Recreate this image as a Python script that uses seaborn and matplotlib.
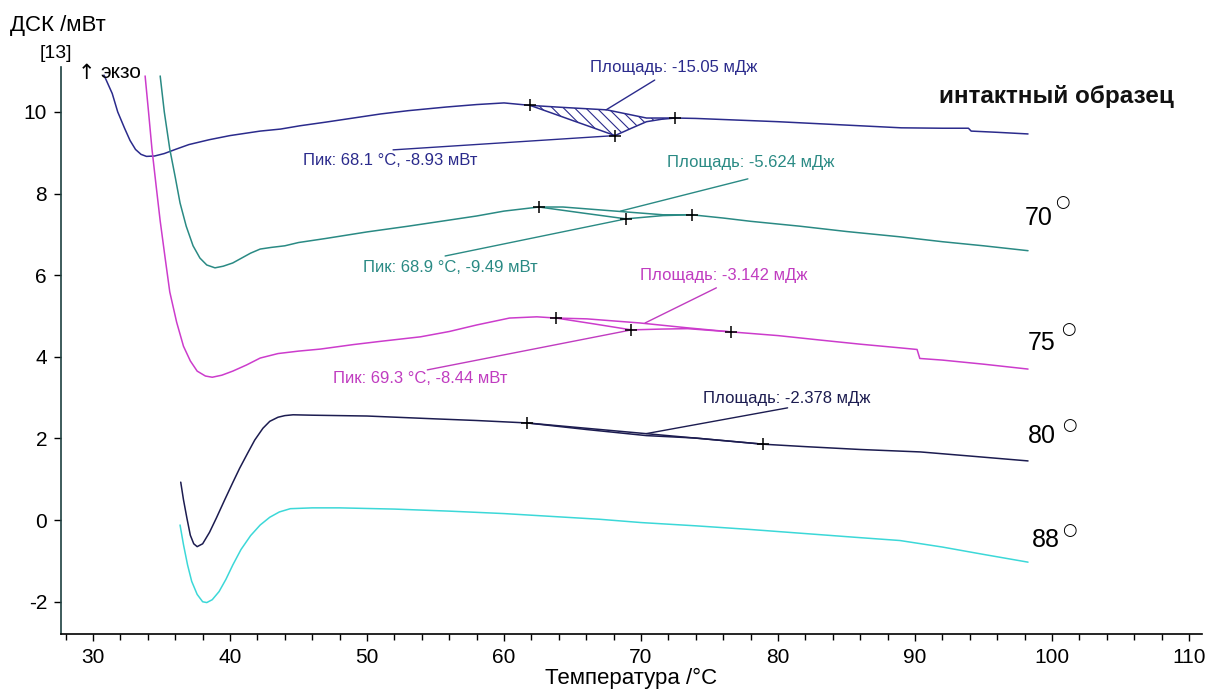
import numpy as np
import pandas as pd
import matplotlib
matplotlib.use("Agg")
import matplotlib.pyplot as plt
from matplotlib.ticker import MultipleLocator
import seaborn as sns

# ---------------- data ----------------
t_intact = [30.8, 31.4, 31.8, 32.3, 32.7, 33.1, 33.5, 33.9, 34.5, 35.2, 36.0, 37.0, 38.5, 40.0,
            42.2, 43.7, 45.1, 47.0, 49.0, 51.0, 53.0, 55.8, 58.0, 60.0, 61.9, 63.5, 65.0, 66.6,
            68.1, 69.3, 70.4, 71.5, 72.5, 74.0, 77.0, 80.0, 83.0, 86.0, 89.0, 92.0, 93.9, 94.1,
            96.0, 98.25]
v_intact = [10.9, 10.45, 10.0, 9.6, 9.3, 9.08, 8.96, 8.91, 8.92, 8.98, 9.08, 9.2, 9.32, 9.42,
            9.53, 9.58, 9.66, 9.75, 9.85, 9.95, 10.03, 10.12, 10.18, 10.22, 10.16, 9.97, 9.79, 9.6,
            9.42, 9.6, 9.76, 9.82, 9.85, 9.84, 9.8, 9.76, 9.71, 9.66, 9.61, 9.6, 9.6, 9.53,
            9.5, 9.46]

t_70 = [34.9, 35.2, 35.6, 36.0, 36.35, 36.8, 37.3, 37.8, 38.3, 38.9, 39.5, 40.2, 41.5, 42.2,
        43.0, 44.0, 45.0, 47.0, 50.0, 53.0, 55.0, 58.0, 60.0, 62.55, 65.8, 68.9, 71.6, 73.7,
        76.0, 78.0, 81.6, 85.0, 88.9, 92.0, 95.0, 98.25]
v_70 = [10.88, 10.0, 9.09, 8.4, 7.77, 7.2, 6.72, 6.42, 6.25, 6.18, 6.22, 6.3, 6.54, 6.64,
        6.68, 6.72, 6.8, 6.9, 7.06, 7.2, 7.3, 7.45, 7.57, 7.67, 7.52, 7.38, 7.46, 7.48,
        7.4, 7.32, 7.2, 7.07, 6.94, 6.82, 6.72, 6.6]

t_75 = [33.8, 34.05, 34.3, 34.6, 34.9, 35.25, 35.6, 36.1, 36.6, 37.1, 37.6, 38.2, 38.7, 39.4,
        40.2, 41.2, 42.2, 43.5, 45.0, 46.6, 49.0, 51.0, 53.9, 56.0, 58.0, 60.4, 62.4, 63.8,
        66.5, 69.3, 71.5, 73.4, 76.6, 80.0, 83.1, 86.0, 88.9, 90.15, 90.35, 92.0, 95.0, 98.25]
v_75 = [10.88, 10.0, 9.09, 8.2, 7.33, 6.45, 5.59, 4.85, 4.26, 3.9, 3.65, 3.53, 3.5, 3.55,
        3.65, 3.8, 3.97, 4.08, 4.14, 4.19, 4.3, 4.38, 4.49, 4.62, 4.78, 4.95, 4.98, 4.95,
        4.81, 4.66, 4.68, 4.69, 4.61, 4.52, 4.41, 4.31, 4.22, 4.18, 3.96, 3.92, 3.82, 3.7]

t_80 = [36.4, 36.6, 36.85, 37.1, 37.35, 37.6, 38.0, 38.5, 39.0, 39.6, 40.2, 40.7, 41.3, 41.8,
        42.4, 42.9, 43.5, 44.0, 44.6, 46.0, 50.0, 55.0, 58.0, 61.7, 66.0, 70.4, 74.0, 78.9,
        82.0, 86.0, 90.4, 94.0, 98.25]
v_80 = [0.93, 0.5, 0.05, -0.37, -0.58, -0.65, -0.58, -0.3, 0.05, 0.49, 0.92, 1.27, 1.65, 1.96,
        2.25, 2.42, 2.52, 2.56, 2.58, 2.57, 2.55, 2.48, 2.44, 2.38, 2.22, 2.07, 2.01, 1.86,
        1.8, 1.73, 1.67, 1.57, 1.45]

t_88 = [36.35, 36.6, 36.9, 37.2, 37.6, 38.0, 38.3, 38.7, 39.2, 39.7, 40.2, 40.8, 41.5, 42.2,
        42.9, 43.6, 44.4, 46.0, 48.0, 52.0, 56.0, 60.0, 64.0, 67.0, 70.0, 74.0, 78.0, 82.0,
        86.0, 88.9, 92.0, 95.0, 98.25]
v_88 = [-0.12, -0.6, -1.1, -1.5, -1.82, -2.0, -2.02, -1.95, -1.75, -1.45, -1.1, -0.72, -0.38, -0.12,
        0.07, 0.2, 0.28, 0.3, 0.3, 0.27, 0.22, 0.16, 0.08, 0.02, -0.06, -0.14, -0.23, -0.33,
        -0.43, -0.5, -0.66, -0.84, -1.03]

series_names = ["интактный образец", "70", "75", "80", "88"]
series_t = [t_intact, t_70, t_75, t_80, t_88]
series_v = [v_intact, v_70, v_75, v_80, v_88]

# integration limits and peak marks
marks_t = [[61.9, 68.1, 72.5], [62.55, 68.9, 73.7], [63.8, 69.3, 76.6], [61.7, 78.9]]
marks_v = [[10.16, 9.42, 9.85], [7.67, 7.38, 7.48], [4.95, 4.66, 4.61], [2.38, 1.86]]

# baselines of the peak integration
base_t = [[61.9, 64.3, 67.5, 70.4, 72.5], [62.55, 64.3, 68.5, 71.6, 73.7],
          [63.8, 66.05, 69.9, 73.4, 76.6], [61.7, 78.9]]
base_v = [[10.16, 10.11, 10.05, 9.85, 9.85], [7.67, 7.67, 7.56, 7.48, 7.48],
          [4.95, 4.93, 4.83, 4.71, 4.61], [2.38, 1.86]]

area_texts = ["Площадь: -15.05 мДж", "Площадь: -5.624 мДж", "Площадь: -3.142 мДж", "Площадь: -2.378 мДж"]
peak_texts = ["Пик: 68.1 °C, -8.93 мВт", "Пик: 68.9 °C, -9.49 мВт", "Пик: 69.3 °C, -8.44 мВт", None]

# ---------------- style / layout ----------------
colors = ["#2b2b8c", "#2a8a84", "#cc3ccc", "#1c1c50", "#3cd8d8"]
text_colors = ["#2b2b8c", "#2a8a84", "#c03cc0", "#1c1c50"]

# annotation placement (text anchor, leader line start -> end)
area_text_pos = [(66.3, 11.08), (71.9, 8.75), (69.9, 6.0), (74.5, 2.99)]
area_line = [((67.45, 10.05), (71.0, 10.78)), ((68.5, 7.57), (77.8, 8.36)),
             ((70.3, 4.83), (75.5, 5.69)), ((70.4, 2.12), (80.7, 2.75))]
peak_text_pos = [(45.3, 8.82), (49.7, 6.2), (47.5, 3.48), None]
peak_line_end = [(51.9, 9.07), (55.7, 6.47), (54.4, 3.68), None]

label_pos = [(91.75, 10.37), (98.0, 7.40), (98.25, 4.34), (98.25, 2.06), (98.5, -0.49)]
circle_pos = [None, (100.73, 7.79), (101.17, 4.68), (101.24, 2.33), (101.3, -0.25)]

sns.set_theme(style="ticks")
plt.rcParams['font.family'] = ['Liberation Sans', 'DejaVu Sans']
plt.rcParams['axes.unicode_minus'] = False
plt.rcParams['hatch.linewidth'] = 0.8

W, H = 1211, 689
fig = plt.figure(figsize=(W / 100, H / 100), dpi=100)
fig.patch.set_facecolor("white")
ax = fig.add_axes([61 / W, 1 - 634 / H, (1202 - 61) / W, (634 - 67) / H])
ax.set_facecolor("white")

rows = []
for name, ts, vs in zip(series_names, series_t, series_v):
    for i, (t, v) in enumerate(zip(ts, vs)):
        rows.append({"T": t, "V": v, "series": name, "i": i})
df = pd.DataFrame(rows)

sns.lineplot(data=df, x="T", y="V", hue="series", palette=dict(zip(series_names, colors)),
             sort=False, estimator=None, units="series", legend=False, linewidth=1.1, ax=ax)

for k in range(4):
    bdf = pd.DataFrame({"T": base_t[k], "V": base_v[k]})
    sns.lineplot(data=bdf, x="T", y="V", color=colors[k], sort=False, estimator=None,
                 linewidth=1.1, ax=ax)

# hatched area for the intact sample
ct = np.array(t_intact)
cv = np.array(v_intact)
sel = (ct >= base_t[0][0]) & (ct <= base_t[0][-1])
poly_t = np.concatenate([ct[sel], np.array(base_t[0])[::-1]])
poly_v = np.concatenate([cv[sel], np.array(base_v[0])[::-1]])
ax.fill(poly_t, poly_v, facecolor="none", edgecolor=colors[0], hatch="\\\\\\", linewidth=0)

for k in range(4):
    ax.plot(marks_t[k], marks_v[k], linestyle="none", marker="+", markersize=9,
            markeredgewidth=1.1, color="black", zorder=5)

txt_kw = dict(fontsize=12, ha="left", va="center")
for k in range(4):
    (x0, y0), (x1, y1) = area_line[k]
    ax.plot([x0, x1], [y0, y1], color=text_colors[k], linewidth=1.0)
    ax.text(*area_text_pos[k], area_texts[k], color=text_colors[k], clip_on=False, **txt_kw)
    if peak_texts[k] is not None:
        ax.plot([marks_t[k][1], peak_line_end[k][0]], [marks_v[k][1], peak_line_end[k][1]],
                color=text_colors[k], linewidth=1.0)
        ax.text(*peak_text_pos[k], peak_texts[k], color=text_colors[k], clip_on=False, **txt_kw)

ax.text(*label_pos[0], series_names[0], fontsize=17.5, fontweight="bold", ha="left",
        va="center", color="#111111", clip_on=False)
for k in range(1, 5):
    ax.text(*label_pos[k], series_names[k], fontsize=18, ha="left", va="center", color="black",
            clip_on=False)
    ax.text(*circle_pos[k], "○", fontsize=12, ha="center", va="center", color="black",
            family=["DejaVu Sans"], clip_on=False)

# axes
ax.set_xlim(27.66, 110.95)
ax.set_ylim(-2.79, 11.1)
ax.xaxis.set_major_locator(MultipleLocator(10))
ax.xaxis.set_minor_locator(MultipleLocator(2))
ax.set_yticks(range(-2, 11, 2))
for s in ["top", "right"]:
    ax.spines[s].set_visible(False)
ax.spines["left"].set_color("#1d3f3f")
ax.spines["bottom"].set_color("black")
ax.spines["left"].set_linewidth(1.2)
ax.spines["bottom"].set_linewidth(1.2)
ax.tick_params(axis="x", which="major", length=5, width=1, direction="out", labelsize=15,
               pad=5, colors="black")
ax.tick_params(axis="x", which="minor", length=4, width=1, direction="out", colors="black")
ax.tick_params(axis="y", which="major", length=5, width=1, direction="out", labelsize=15,
               pad=5, colors="black")
ax.set_xlabel("Температура /°C", fontsize=16, labelpad=1, color="black")
ax.set_ylabel("")

# top-left labels (figure pixel coords)
def fx(px):
    return px / W

def fy(py):
    return 1 - py / H

fig.text(fx(10), fy(31), "ДСК /мВт", fontsize=16, ha="left", va="baseline", color="black")
fig.text(fx(40), fy(58), "[13]", fontsize=14, ha="left", va="baseline", color="black")
fig.text(fx(78), fy(79), "↑", fontsize=15, ha="left", va="baseline", color="black",
         family=["DejaVu Sans"])
fig.text(fx(100), fy(78), "экзо", fontsize=15, ha="left", va="baseline", color="black")

fig.savefig("out.png", dpi=100, facecolor="white")
